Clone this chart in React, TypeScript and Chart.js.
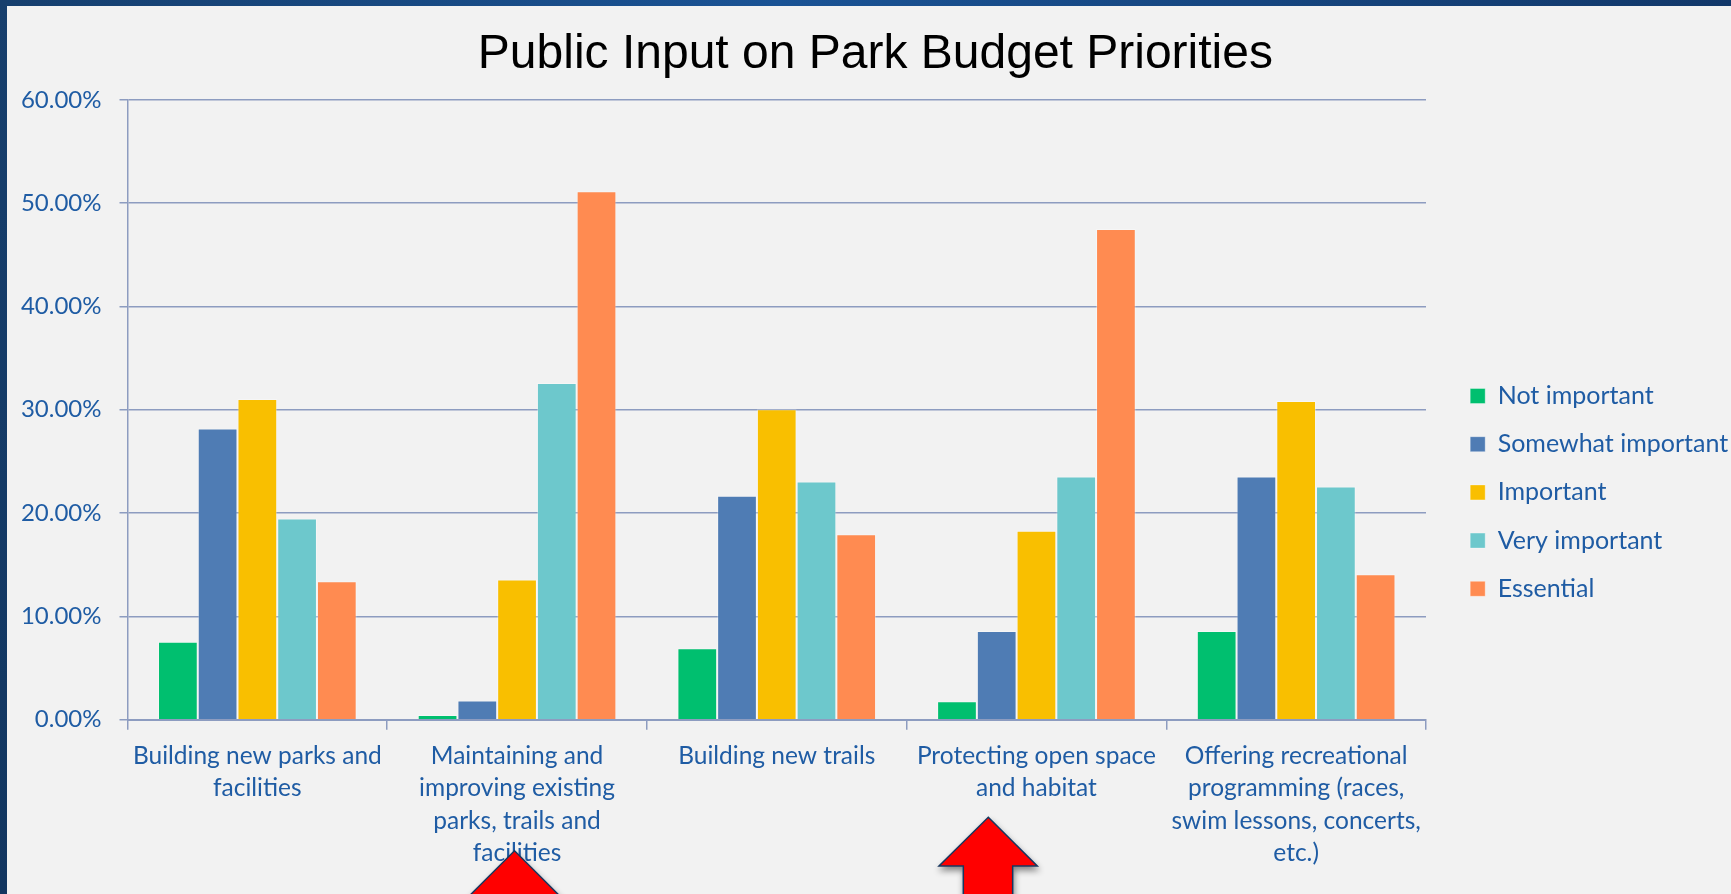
import { useEffect, useRef } from "react";
import { Chart, registerables } from "chart.js";

Chart.register(...registerables);

const categories: string[][] = [
  ["Building new parks and", "facilities"],
  ["Maintaining and", "improving existing", "parks, trails and", "facilities"],
  ["Building new trails"],
  ["Protecting open space", "and habitat"],
  ["Offering recreational", "programming (races,", "swim lessons, concerts,", "etc.)"],
];

const seriesNames = ["Not important", "Somewhat important", "Important", "Very important", "Essential"];
const notImportant = [7.54, 0.45, 6.92, 1.79, 8.59];
const somewhatImportant = [28.19, 1.87, 21.67, 8.59, 23.54];
const important = [31.04, 13.56, 30.06, 18.29, 30.84];
const veryImportant = [19.47, 32.59, 23.05, 23.54, 22.57];
const essential = [13.4, 51.16, 17.96, 47.49, 14.09];
const seriesColors = ["#00bf6f", "#4f7cb4", "#f9bf00", "#6dc8cc", "#ff8b51"];

const yMin = 0;
const yMax = 60;
const yStep = 10;

const TITLE = "Public Input on Park Budget Priorities";
const TEXT = "#1f5ca4";
const GRID = "#8d9cc0";

export default function App() {
  const ref = useRef<HTMLCanvasElement>(null);

  useEffect(() => {
    document.body.style.margin = "0";
    const values = [notImportant, somewhatImportant, important, veryImportant, essential];
    const chart = new Chart(ref.current!, {
      type: "bar",
      data: {
        labels: categories,
        datasets: values.map((v, i) => ({
          label: seriesNames[i],
          data: v,
          backgroundColor: seriesColors[i],
          borderColor: "rgba(255,255,255,0.35)",
          borderWidth: 1,
          categoryPercentage: 0.765,
          barPercentage: 1.0,
          yAxisID: "y",
        })),
      },
      options: {
        responsive: false,
        animation: false,
        layout: { padding: { top: 0, left: 18, right: 17.2, bottom: 0 } },
        scales: {
          x: {
            grid: {
              display: true,
              drawOnChartArea: false,
              drawTicks: true,
              tickLength: 10,
              offset: true,
              color: GRID,
              lineWidth: 1.5,
            },
            border: { display: true, color: GRID, width: 2 },
            ticks: {
              color: TEXT,
              font: { family: "Lato", size: 24.5, lineHeight: 1.318 },
              padding: 10.2,
              autoSkip: false,
              maxRotation: 0,
              minRotation: 0,
            },
            afterFit: (s: any) => {
              s.height = 174.3;
            },
          },
          y: {
            min: yMin,
            max: yMax,
            ticks: {
              stepSize: yStep,
              color: TEXT,
              font: { family: "Lato", size: 24 },
              padding: 18,
              callback: (v: any) => Number(v).toFixed(2) + "%",
            },
            grid: { color: GRID, lineWidth: 1.5, tickLength: 8 },
            border: { color: GRID, width: 1.5 },
            afterFit: (s: any) => {
              s.width = 109.5;
            },
          },
          y2: {
            position: "right",
            display: true,
            grid: { display: false },
            border: { display: false },
            ticks: { display: false },
            afterFit: (s: any) => {
              s.width = 21;
            },
          },
        },
        plugins: {
          title: {
            display: true,
            text: TITLE,
            color: "#000000",
            font: { family: "Liberation Sans", size: 48, weight: "normal", lineHeight: 1.2 },
            padding: { top: 25.7, bottom: 16.5 },
          },
          legend: {
            position: "right",
            align: "center",
            title: { display: true, text: " ", font: { size: 10, lineHeight: 1 }, padding: { top: 0, bottom: 80.8 } },
            labels: {
              boxWidth: 15,
              boxHeight: 15,
              padding: 23.2,
              color: TEXT,
              font: { family: "Lato", size: 25 },
            },
          },
          tooltip: { enabled: false },
        },
      },
    } as any);
    return () => chart.destroy();
  }, []);

  return (
    <div
      style={{
        position: "absolute",
        left: 0,
        top: 0,
        width: 1731,
        height: 894,
        overflow: "hidden",
        background: "#f2f2f2",
      }}
    >
      <canvas ref={ref} width={1750} height={894} style={{ position: "absolute", left: 0, top: 0, width: 1750, height: 894 }} />
      <svg width={1731} height={894} style={{ position: "absolute", left: 0, top: 0, pointerEvents: "none" }}>
        <defs>
          <filter id="sh" x="-30%" y="-30%" width="160%" height="160%">
            <feDropShadow dx="1" dy="4" stdDeviation="3" floodColor="#000" floodOpacity="0.45" />
          </filter>
        </defs>
        <polygon
          points="514.5,850.7 563.5,899.7 539,899.7 539,920 490,920 490,899.7 465.5,899.7"
          fill="#ff0000"
          stroke="#17375e"
          strokeWidth={1.5}
          filter="url(#sh)"
        />
        <polygon
          points="988.3,817.3 1037.3,866 1012.7,866 1012.7,920 963.3,920 963.3,866 939,866"
          fill="#ff0000"
          stroke="#17375e"
          strokeWidth={1.5}
          filter="url(#sh)"
        />
      </svg>
      <div style={{ position: "absolute", left: 0, top: 0, width: 1731, height: 6, background: "linear-gradient(90deg, #163f6e 0%, #1a5395 45%, #12386a 100%)" }} />
      <div style={{ position: "absolute", left: 0, top: 0, width: 7, height: 894, background: "linear-gradient(180deg, #173f6d 0%, #123660 100%)" }} />
    </div>
  );
}
